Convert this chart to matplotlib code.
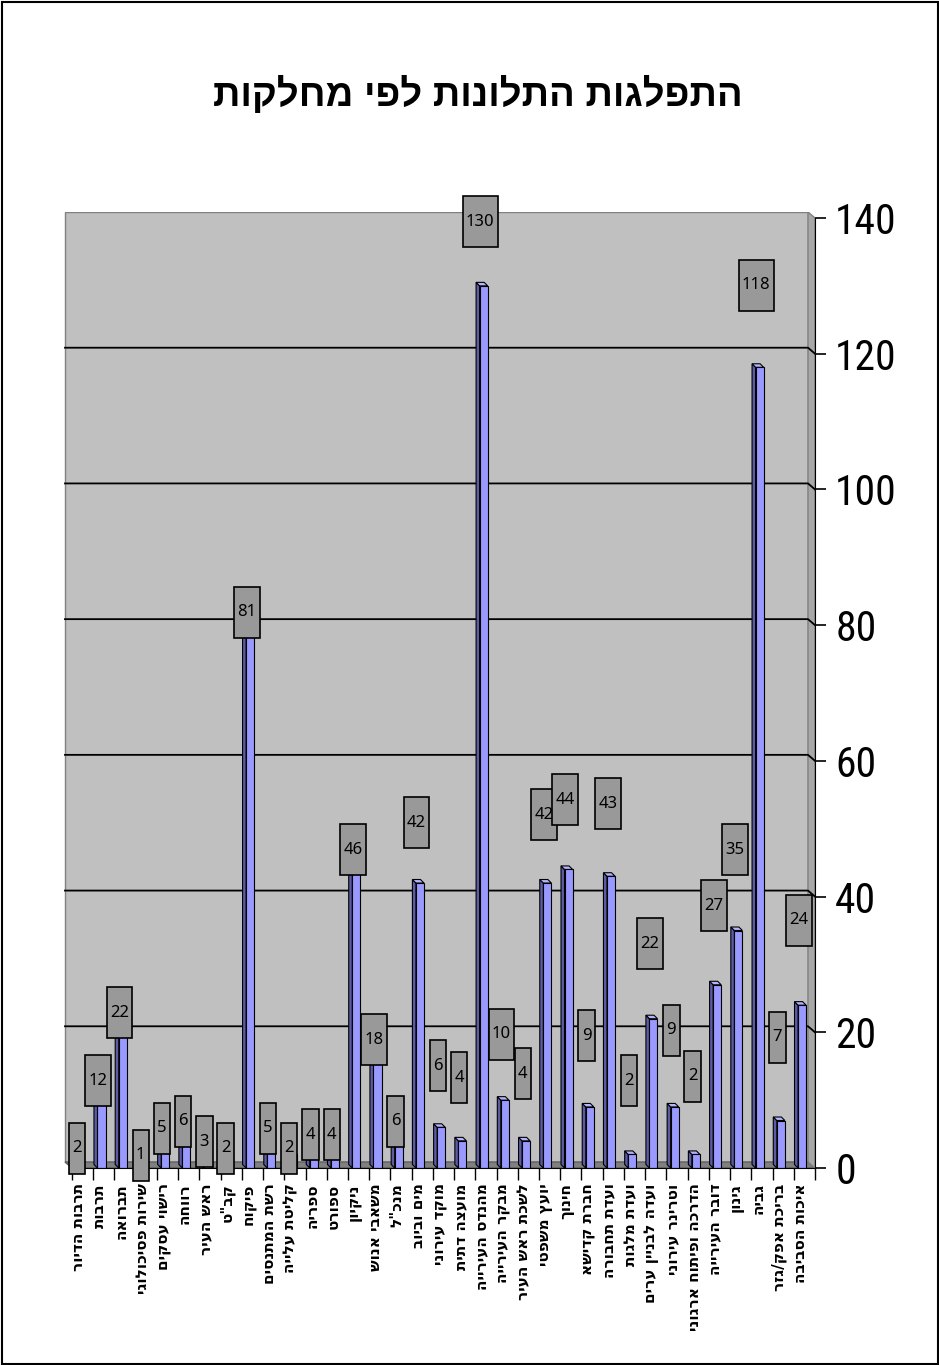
import matplotlib
matplotlib.use("Agg")
import matplotlib.pyplot as plt
from matplotlib.patches import Polygon, Rectangle

# complaints per department
title = "התפלגות התלונות לפי מחלקות"
departments = [
    "תרבות הדיור", "תרבות", "תברואה", "שירות פסיכולוגי", "רישוי עסקים",
    "רווחה", "ראש העיר", "קב\"ט", "פיקוח", "רשת המתנסים", "קליטת עלייה",
    "ספריה", "ספורט", "ניקיון", "משאבי אנוש", "מנכ\"ל", "מים וביוב",
    "מוקד עירוני", "מועצה דתית", "מהנדס העירייה", "מבקר העירייה",
    "לשכת ראש העיר", "יועץ משפטי", "חינוך", "חברת קדישא", "ועדת תחבורה",
    "ועדת מלגות", "ועדה לבניין ערים", "וטרינר עירוני", "הדרכה ופיתוח ארגוני",
    "דובר העירייה", "גינון", "גביה", "בריכת אפק/גזר", "איכות הסביבה",
]
complaints = [2, 12, 22, 1, 5, 6, 3, 2, 81, 5, 2, 4, 4, 46, 18, 6, 42, 6, 4,
              130, 10, 4, 42, 44, 9, 43, 2, 22, 9, 2, 27, 35, 118, 7, 24]
y_ticks = [0, 20, 40, 60, 80, 100, 120, 140]

W, H = 939, 1365
fig = plt.figure(figsize=(W / 100, H / 100), dpi=100)
fig.patch.set_facecolor("white")

n = len(complaints)
ax = fig.add_axes([60 / W, (H - 1168) / H, (815 - 60) / W, (1168 - 212) / H])
px_x = (815 - 72) / n          # pixels per category
px_y = (1168 - 218) / 140      # pixels per complaint
ax.set_xlim(-12 / px_x, n)
ax.set_ylim(0, 140 + 6 / px_y)
ax.set_facecolor("none")

# 3d box: back wall, floor and right side wall
dx, dy = 7 / px_x, 6 / px_y
ax.add_patch(Rectangle((-dx, dy), n, 140, fc="#C0C0C0", ec="#808080", lw=1, zorder=0))
ax.add_patch(Polygon([(-dx, dy), (n - dx, dy), (n, 0), (0, 0)],
                     fc="#808080", ec="#606060", lw=1, zorder=1))
ax.add_patch(Polygon([(n - dx, dy), (n, 0), (n, 140), (n - dx, 140 + dy)],
                     fc="#A8A8A8", ec="#808080", lw=1, zorder=1))
for v in y_ticks[1:-1]:
    ax.plot([-dx, n - dx, n], [v + dy, v + dy, v], color="black", lw=1.3, zorder=1.5)

# columns with a shaded side and top
bdx, bdy = 3.5 / px_x, 3.5 / px_y
face_off, face_w = 0.2, 0.38
xs = [i + face_off + face_w / 2 for i in range(n)]
ax.bar(xs, complaints, width=face_w, color="#9999FF", edgecolor="black",
       linewidth=0.8, zorder=3)
for i, v in enumerate(complaints):
    x0, x1 = i + face_off, i + face_off + face_w
    ax.add_patch(Polygon([(x0, 0), (x0 - bdx, bdy), (x0 - bdx, v + bdy), (x0, v)],
                         fc="#5C5CA6", ec="black", lw=0.8, zorder=3))
    ax.add_patch(Polygon([(x0, v), (x1, v), (x1 - bdx, v + bdy), (x0 - bdx, v + bdy)],
                         fc="#B3B3FF", ec="black", lw=0.8, zorder=3))

# value boxes
box_h = 51 / px_y
for i, v in enumerate(complaints):
    lift = 0 if i < 16 else 8 + (i - 16) * 0.2
    cx, cy = i + 5 / px_x, v + dy + lift
    bw = (7 + 9.3 * len(str(v))) / px_x
    ax.add_patch(Rectangle((cx - bw / 2, cy - box_h / 2), bw, box_h, fc="#999999",
                           ec="black", lw=1.2, zorder=5, clip_on=False))
    ax.text(cx, cy, str(v), ha="center", va="center", fontsize=12,
            family=["Noto Sans", "DejaVu Sans"], fontstretch="condensed",
            zorder=6, clip_on=False)

# axes
for s in ["left", "top"]:
    ax.spines[s].set_visible(False)
ax.spines["right"].set_bounds(0, 140)
ax.spines["bottom"].set_bounds(0, n)
ax.spines["right"].set_zorder(4)
ax.spines["bottom"].set_zorder(4)
ax.yaxis.tick_right()
ax.set_yticks(y_ticks)
ax.set_yticklabels([str(t) for t in y_ticks])
ax.tick_params(axis="y", length=8, width=1.2, pad=6.5, labelsize=30)
for lbl in ax.get_yticklabels():
    lbl.set_family(["Liberation Sans Narrow", "Roboto Condensed", "Liberation Sans"])

ax.set_xticks(range(n + 1))
ax.set_xticklabels([""] * (n + 1))
ax.set_xticks([i + 0.3 for i in range(n)], minor=True)
ax.set_xticklabels([d[::-1] for d in departments], minor=True, rotation=90,
                   fontsize=11, fontweight="bold",
                   family=["DejaVu Sans"])
ax.tick_params(axis="x", which="major", length=8.6, width=1.0, direction="out")
ax.tick_params(axis="x", which="minor", length=0, pad=11)

fig.text(478 / W, 1 - 95 / H, title[::-1], ha="center", va="center",
         fontsize=27.5, fontweight="bold", family=["Liberation Sans", "DejaVu Sans"])

fig.add_artist(Rectangle((1.5 / W, 1.5 / H), (W - 3) / W, (H - 3) / H,
                         transform=fig.transFigure, fill=False, ec="black", lw=1.5))

fig.savefig("out.png", dpi=100)
